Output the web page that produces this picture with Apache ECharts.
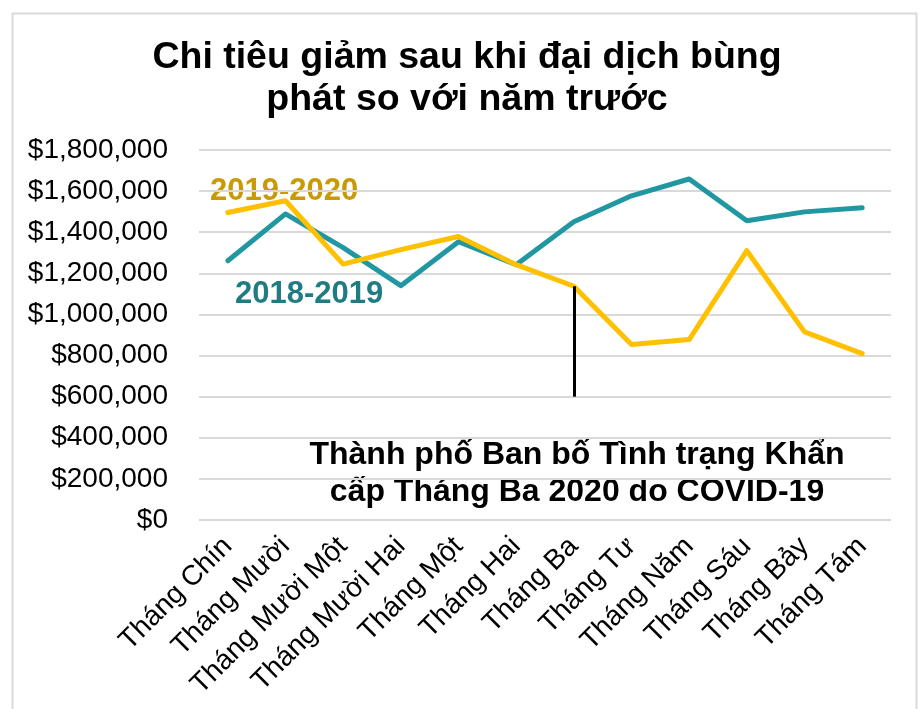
<!DOCTYPE html>
<html>
<head>
<meta charset="utf-8">
<script src="https://cdn.jsdelivr.net/npm/echarts@6/dist/echarts.min.js"></script>
<style>
html,body{margin:0;padding:0;background:#fff;}
#chart{width:920px;height:709px;}
</style>
</head>
<body>
<div id="chart"></div>
<script>
const categories = ['Tháng Chín','Tháng Mười','Tháng Mười Một','Tháng Mười Hai','Tháng Một','Tháng Hai','Tháng Ba','Tháng Tư','Tháng Năm','Tháng Sáu','Tháng Bảy','Tháng Tám'];
const series2018_2019 = [1261000,1489000,1325000,1140000,1354000,1242000,1451000,1577000,1659000,1456000,1499000,1519000];
const series2019_2020 = [1496000,1553000,1245000,1315000,1379000,1242000,1137000,854000,878000,1310000,915000,809000];
const seriesNames = ['2018-2019','2019-2020'];
const yTicks = {min:0, max:1800000, interval:200000};
const annotationCategory = 'Tháng Ba';
const annotationBottom = 600000;
const titleText = 'Chi tiêu giảm sau khi đại dịch bùng\nphát so với năm trước';
const annotationText = 'Thành phố Ban bố Tình trạng Khẩn\ncấp Tháng Ba 2020 do COVID-19';

const FONT = '"Liberation Sans", Arial, sans-serif';
const chart = echarts.init(document.getElementById('chart'), null, {renderer:'canvas'});
const annIdx = categories.indexOf(annotationCategory);

chart.setOption({
  animation:false,
  backgroundColor:'#fff',
  textStyle:{fontFamily:FONT},
  title:{
    text:titleText,
    left:462, top:32, textAlign:'center',
    textStyle:{fontFamily:FONT,fontSize:37.5,fontWeight:'bold',color:'#000',lineHeight:42}
  },
  grid:{left:199,right:29,top:150,bottom:189,containLabel:false},
  xAxis:{
    type:'category', data:categories, boundaryGap:true,
    axisLine:{show:false}, axisTick:{show:false},
    axisLabel:{interval:0,rotate:45,fontSize:28,color:'#000',fontFamily:FONT,margin:22}
  },
  yAxis:{
    type:'value', min:yTicks.min, max:yTicks.max, interval:yTicks.interval,
    axisLine:{show:false}, axisTick:{show:false},
    splitLine:{lineStyle:{color:'#d9d9d9',width:2}},
    axisLabel:{fontSize:28,color:'#000',fontFamily:FONT,margin:31,
      formatter:v=>'$'+v.toLocaleString('en-US')}
  },
  series:[
    {name:seriesNames[0],type:'line',data:series2018_2019,symbol:'none',
      lineStyle:{color:'#2197A2',width:5,cap:'round',join:'round'},z:2},
    {name:seriesNames[1],type:'line',data:series2019_2020,symbol:'none',
      lineStyle:{color:'#FFC000',width:5,cap:'round',join:'round'},z:3,
      markLine:{silent:true,symbol:'none',label:{show:false},
        lineStyle:{color:'#000',width:3,type:'solid'},
        data:[[{coord:[annIdx,series2019_2020[annIdx]]},{coord:[annIdx+0.08,annotationBottom]}]]}}
  ],
  graphic:[
    {type:'rect',left:10,top:11,shape:{width:904,height:720},
      style:{fill:'none',stroke:'#d9d9d9',lineWidth:2},silent:true,z:-1},
    {type:'text',left:210,top:176,style:{text:seriesNames[1],font:'bold 31px '+FONT,fill:'#C99A08'}},
    {type:'text',left:235,top:279,style:{text:seriesNames[0],font:'bold 31px '+FONT,fill:'#1E7C82'}},
    {type:'text',x:577,y:437,style:{text:annotationText,font:'bold 32px '+FONT,fill:'#000',align:'center',lineHeight:37}}
  ]
});
</script>
</body>
</html>
